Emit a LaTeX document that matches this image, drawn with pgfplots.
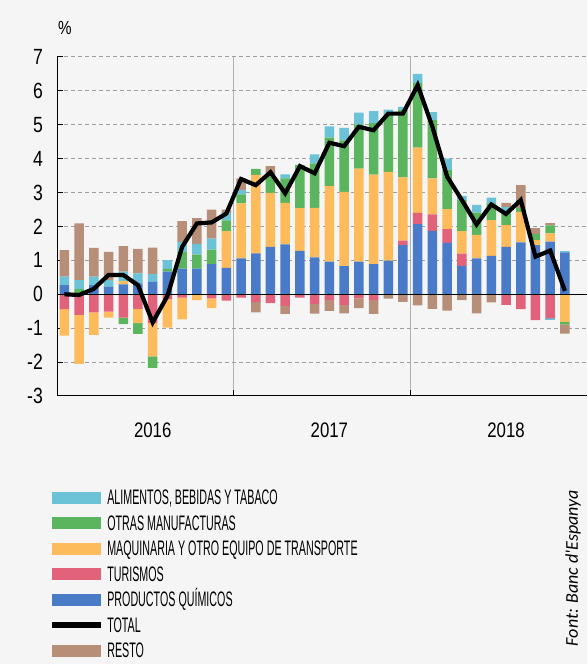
\documentclass[border=0pt]{standalone}
\usepackage{pgfplots}
\pgfplotsset{compat=1.18}
\usepackage{pgfplotstable}
\usepackage{fontspec}
\setmainfont{Liberation Sans}
\newfontfamily\cond[FakeStretch=0.8]{Liberation Sans}
\newfontfamily\condleg[FakeStretch=0.51]{Liberation Sans}
\newfontfamily\carlito{Carlito}
\definecolor{alim}{HTML}{6CC3D7}
\definecolor{otras}{HTML}{5AB55E}
\definecolor{maq}{HTML}{FDBB5C}
\definecolor{tur}{HTML}{E2627C}
\definecolor{quim}{HTML}{4A7BC8}
\definecolor{resto}{HTML}{B78E78}
\definecolor{bgc}{HTML}{F5F5F5}
\definecolor{gridc}{HTML}{9E9E9E}
\definecolor{sepc}{HTML}{B0B0B0}

\pgfplotstableread{
x qp tp mp op ap rp qn tn mn on an rn tot
1 0.27 0 0 0 0.25 0.78 0 -0.44 -0.78 0 0 0 0.00
2 0 0 0 0.15 0.27 1.67 0 -0.61 -1.44 0 0 0 -0.02
3 0.27 0 0 0 0.25 0.85 0 -0.53 -0.67 0 0 0 0.16
4 0.22 0 0 0 0.20 0.83 0 -0.51 -0.18 0 0 0 0.57
5 0.29 0 0.10 0 0.28 0.75 0 -0.69 0 -0.19 0 0 0.57
6 0.32 0 0 0 0.30 0.72 0 -0.43 -0.42 -0.32 0 0 0.27
7 0.37 0 0 0 0.23 0.78 0 -0.85 -0.98 -0.34 0 0 -0.83
8 0.67 0 0 0.08 0.26 0 0 -0.15 -0.83 0 0 0 -0.05
9 0.76 0 0 0.49 0.29 0.62 0 -0.10 -0.64 0 0 0 1.40
10 0.76 0 0 0.41 0.32 0.76 0 0 -0.17 0 0 0 2.09
11 0.89 0 0 0.43 0.32 0.86 0 -0.12 -0.29 0 0 0 2.12
12 0.78 0 1.08 0.32 0.22 0.10 0 -0.19 0 0 0 0 2.38
13 1.06 0 1.62 0.27 0.12 0.35 0 -0.10 0 0 0 0 3.40
14 1.21 0 2.31 0.18 0 0 0 -0.22 0 0 0 -0.31 3.22
15 1.40 0 1.59 0.59 0 0.20 0 -0.26 0 0 0 0 3.60
16 1.47 0 1.23 0.72 0.12 0 0 -0.34 0 0 0 -0.24 2.98
17 1.28 0 1.26 1.28 0 0 0 -0.10 0 0 0 0 3.78
18 1.09 0 1.46 1.31 0.27 0 0 -0.28 0 0 0 -0.29 3.57
19 0.96 0 2.23 1.43 0.33 0 0 -0.17 0 0 0 -0.32 4.47
20 0.83 0 2.19 1.52 0.37 0 0 -0.31 0 0 0 -0.25 4.37
21 0.96 0 2.75 1.30 0.35 0 0 -0.12 0 0 0 -0.29 4.94
22 0.89 0 2.64 1.52 0.35 0 0 -0.17 0 0 0 -0.41 4.84
23 0.99 0 2.62 1.72 0.12 0 0 0 0 0 0 -0.13 5.33
24 1.45 0.13 1.87 1.98 0.10 0 0 0 0 0 0 -0.22 5.33
25 2.07 0.33 1.93 1.91 0.26 0 0 0 0 0 0 -0.33 6.17
26 1.87 0.49 1.06 1.72 0.23 0 0 0 0 0 0 -0.43 4.94
27 1.52 0.40 0.59 1.15 0.34 0 0 0 0 0 0 -0.48 3.47
28 0.84 0.36 0.66 0.92 0.12 0 0 0 0 0 0 -0.17 2.78
29 1.06 0 0.69 0.66 0.23 0 0 0 0 0 0 -0.56 2.06
30 1.13 0 1.06 0.49 0.17 0 0 0 0 0 0 -0.24 2.65
31 1.40 0 0.64 0.34 0.20 0.12 0 -0.31 0 0 0 0 2.37
32 1.53 0 0.90 0.12 0 0.67 0 -0.44 0 0 0 0 2.78
33 1.45 0 0.15 0.18 0 0.17 0 -0.76 0 0 0 0 1.11
34 1.55 0 0.25 0.23 0 0.07 0 -0.71 0 0 -0.05 0 1.29
35 1.24 0 0 0 0.03 0 0 0 -0.81 -0.08 0 -0.27 0.10
}\data

\pgfplotsset{common/.style={at={(57pt,268pt)}, anchor=south west, scale only axis,
  width=530pt, height=339pt, xmin=0.5, xmax=36.5, ymin=-3, ymax=7}}

\begin{document}
\begin{tikzpicture}
\path[use as bounding box, fill=bgc] (0,0) rectangle (587pt,664pt);
% positive parts + decorations
\begin{axis}[common, ybar stacked, bar width=9.5pt,
  axis lines*=left, axis line style={black, line width=1pt},
  tick align=inside, major tick length=6pt, tick style={black, line width=1pt},
  ytick={-3,-2,-1,0,1,2,3,4,5,6,7},
  yticklabels={-3,-2,-1,0,1,2,3,4,5,6,7},
  yticklabel style={font=\cond\fontsize{22}{22}\selectfont, inner sep=0pt, xshift=-14pt},
  xtick={12.5,24.5}, xticklabels={},
  extra x ticks={7,19,31}, extra x tick labels={2016,2017,2018},
  extra x tick style={grid=none, tick style={draw=none},
     xticklabel style={font=\cond\fontsize{21}{21}\selectfont, inner sep=0pt, yshift=-27pt}},
  ymajorgrids, xmajorgrids,
  major y grid style={gridc, line width=1pt, dash pattern=on 4pt off 3pt},
  major x grid style={sepc, line width=1pt},
  ]
\addplot[fill=quim, draw=none] table[x=x,y=qp]{\data};
\addplot[fill=tur, draw=none] table[x=x,y=tp]{\data};
\addplot[fill=maq, draw=none] table[x=x,y=mp]{\data};
\addplot[fill=otras, draw=none] table[x=x,y=op]{\data};
\addplot[fill=alim, draw=none] table[x=x,y=ap]{\data};
\addplot[fill=resto, draw=none] table[x=x,y=rp]{\data};
\end{axis}
% negative parts
\begin{axis}[common, ybar stacked, bar width=9.5pt, hide axis]
\addplot[fill=quim, draw=none] table[x=x,y=qn]{\data};
\addplot[fill=tur, draw=none] table[x=x,y=tn]{\data};
\addplot[fill=maq, draw=none] table[x=x,y=mn]{\data};
\addplot[fill=otras, draw=none] table[x=x,y=on]{\data};
\addplot[fill=alim, draw=none] table[x=x,y=an]{\data};
\addplot[fill=resto, draw=none] table[x=x,y=rn]{\data};
\end{axis}
% zero line, total, legend
\begin{axis}[common, hide axis,
  legend style={at={(axis description cs:-0.01,-0.2764)}, anchor=north west,
    draw=none, fill=none, inner sep=0pt, row sep=10.5pt, column sep=7pt,
    font=\condleg\fontsize{21}{21}\selectfont,
    nodes={inner sep=0pt, text height=15pt, text depth=0pt}},
  legend cell align=left]
\addplot[black, line width=1.3pt, forget plot] coordinates {(0.5,0) (36.5,0)};
\addplot[black, line width=4.2pt, line join=miter, forget plot] table[x=x,y=tot]{\data};
\addlegendimage{legend image code/.code={\fill[alim] (0pt,-5.5pt) rectangle (48pt,5.5pt);}}
\addlegendentry{ALIMENTOS, BEBIDAS Y TABACO}
\addlegendimage{legend image code/.code={\fill[otras] (0pt,-5.5pt) rectangle (48pt,5.5pt);}}
\addlegendentry{OTRAS MANUFACTURAS}
\addlegendimage{legend image code/.code={\fill[maq] (0pt,-5.5pt) rectangle (48pt,5.5pt);}}
\addlegendentry{MAQUINARIA Y OTRO EQUIPO DE TRANSPORTE}
\addlegendimage{legend image code/.code={\fill[tur] (0pt,-5.5pt) rectangle (48pt,5.5pt);}}
\addlegendentry{TURISMOS}
\addlegendimage{legend image code/.code={\fill[quim] (0pt,-5.5pt) rectangle (48pt,5.5pt);}}
\addlegendentry{PRODUCTOS QUÍMICOS}
\addlegendimage{legend image code/.code={\fill[black] (0pt,-2.4pt) rectangle (48pt,2.4pt);}}
\addlegendentry{TOTAL}
\addlegendimage{legend image code/.code={\fill[resto] (0pt,-5.5pt) rectangle (48pt,5.5pt);}}
\addlegendentry{RESTO}
\end{axis}
\node[font=\cond\fontsize{19}{19}\selectfont, inner sep=0pt] at (65pt,636.5pt) {\%};
\node[font=\carlito\itshape\fontsize{18}{18}\selectfont, rotate=90, inner sep=0pt] at (573pt,96pt) {Font: Banc d'Espanya};
\end{tikzpicture}
\end{document}
